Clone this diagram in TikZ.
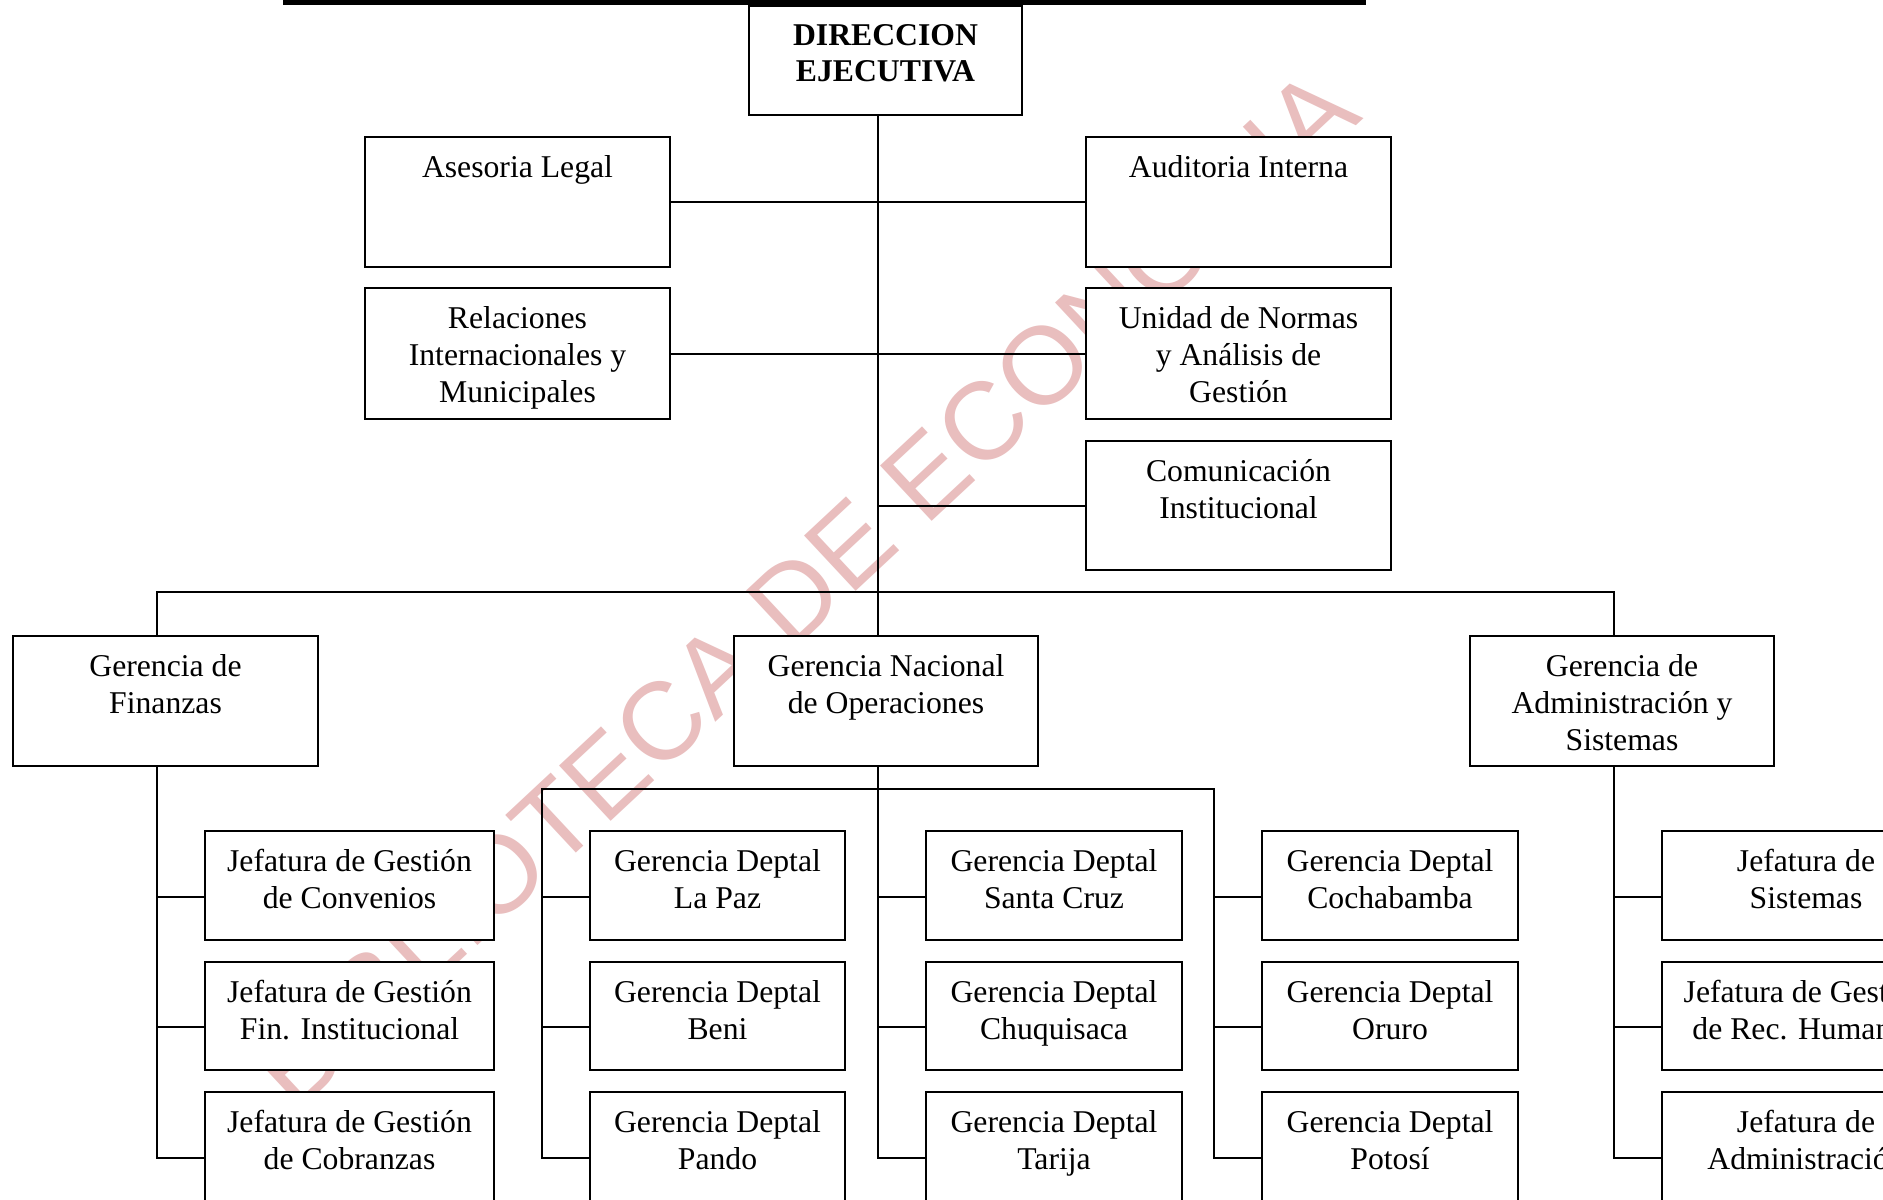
\documentclass[tikz,border=0pt]{standalone}
\usepackage{fontspec}
\setmainfont{Liberation Serif}
\newfontfamily\wmfont{Liberation Sans}
\usetikzlibrary{fit}
\pgfdeclarelayer{wm}
\pgfdeclarelayer{bg}
\pgfsetlayers{wm,bg,main}
\definecolor{wmpink}{RGB}{233,190,190}
\tikzset{
  orgbox/.style={draw=black, line width=1.05pt, fill=white, inner sep=0pt, rectangle},
  orgtxt/.style={anchor=north, inner sep=0pt, align=center, font=\fontsize{15.85}{18.6}\selectfont},
  boldtxt/.style={orgtxt, font=\fontsize{15.85}{18}\selectfont\bfseries},
  link/.style={draw=black, line width=1pt},
}
\newcommand\obox[6]{%
  \node[orgbox, fit={(#2,#3) (#4,#5)}] (#1) {};
  \node[orgtxt] (#1-t) at ([yshift=-9.5pt]#1.north) {#6};
}
\begin{document}
\begin{tikzpicture}[x=0.5pt,y=-0.5pt]
\useasboundingbox (0,0) rectangle (1883,1199);

% watermark
\begin{pgfonlayer}{wm}
  \fill[white] (0,0) rectangle (1883,1199);
  \node[rotate=43, text=wmpink, inner sep=0pt, font=\wmfont\fontsize{55}{60}\selectfont] (wm) at (804,589) {BIBLIOTECA DE ECONOMIA};
\end{pgfonlayer}

% underline of the cut-off title
\fill[black] (283,0) rectangle (1366,4.5);

% boxes
\node[orgbox, fit={(749,6) (1022,115)}] (dir) {};
\node[boldtxt] (dir-t) at ([yshift=-9.5pt]dir.north) {DIRECCION\\EJECUTIVA};

\obox{ase}{365}{137}{670}{267}{Asesoria Legal}
\obox{aud}{1086}{137}{1391}{267}{Auditoria Interna}
\obox{rel}{365}{288}{670}{419}{Relaciones\\Internacionales y\\Municipales}
\obox{uni}{1086}{288}{1391}{419}{Unidad de Normas\\y Análisis de\\Gestión}
\obox{com}{1086}{441}{1391}{570}{Comunicación\\Institucional}

\obox{fin}{13}{636}{318}{766}{Gerencia de\\Finanzas}
\obox{ope}{734}{636}{1038}{766}{Gerencia Nacional\\de Operaciones}
\obox{adm}{1470}{636}{1774}{766}{Gerencia de\\Administración y\\Sistemas}

\obox{jconv}{205}{831}{494}{940}{Jefatura de Gestión\\de Convenios}
\obox{jfin}{205}{962}{494}{1070}{Jefatura de Gestión\\Fin. Institucional}
\obox{jcob}{205}{1092}{494}{1201}{Jefatura de Gestión\\de Cobranzas}

\obox{lpz}{590}{831}{845}{940}{Gerencia Deptal\\La Paz}
\obox{ben}{590}{962}{845}{1070}{Gerencia Deptal\\Beni}
\obox{pan}{590}{1092}{845}{1201}{Gerencia Deptal\\Pando}

\obox{scz}{926}{831}{1182}{940}{Gerencia Deptal\\Santa Cruz}
\obox{chu}{926}{962}{1182}{1070}{Gerencia Deptal\\Chuquisaca}
\obox{tar}{926}{1092}{1182}{1201}{Gerencia Deptal\\Tarija}

\obox{cbb}{1262}{831}{1518}{940}{Gerencia Deptal\\Cochabamba}
\obox{oru}{1262}{962}{1518}{1070}{Gerencia Deptal\\Oruro}
\obox{pot}{1262}{1092}{1518}{1201}{Gerencia Deptal\\Potosí}

\obox{jsis}{1662}{831}{1950}{940}{Jefatura de\\Sistemas}
\obox{jrh}{1662}{962}{1950}{1070}{Jefatura de Gestión\\de Rec. Humanos}
\obox{jadm}{1662}{1092}{1950}{1201}{Jefatura de\\Administración}

% reference coordinates
\coordinate (xt) at (878,0);
\coordinate (xf) at (157,0);
\coordinate (xa) at (1614,0);
\coordinate (xo1) at (542,0);
\coordinate (xo3) at (1214,0);
\coordinate (bus) at (0,592);
\coordinate (opsbar) at (0,789);
\coordinate (r1) at (0,897);
\coordinate (r2) at (0,1027);
\coordinate (r3) at (0,1158);

% connectors
\begin{pgfonlayer}{bg}
  \draw[link] (xt |- dir.south) -- (xt |- ope.north);
  \draw[link] (ase.east) -- (aud.west);
  \draw[link] (rel.east) -- (uni.west);
  \draw[link] (xt |- com.west) -- (com.west);
  \draw[link] (xf |- fin.north) -- (xf |- bus) -- (xa |- bus) -- (xa |- adm.north);
  % finanzas
  \draw[link] (xf |- fin.south) -- (xf |- r3) -- (r3 -| jcob.west);
  \draw[link] (xf |- r1) -- (r1 -| jconv.west);
  \draw[link] (xf |- r2) -- (r2 -| jfin.west);
  % operaciones
  \draw[link] (xt |- ope.south) -- (xt |- r3) -- (r3 -| tar.west);
  \draw[link] (xt |- r1) -- (r1 -| scz.west);
  \draw[link] (xt |- r2) -- (r2 -| chu.west);
  \draw[link] (r3 -| pan.west) -- (xo1 |- r3) -- (xo1 |- opsbar) -- (xo3 |- opsbar) -- (xo3 |- r3) -- (r3 -| pot.west);
  \draw[link] (xo1 |- r1) -- (r1 -| lpz.west);
  \draw[link] (xo1 |- r2) -- (r2 -| ben.west);
  \draw[link] (xo3 |- r1) -- (r1 -| cbb.west);
  \draw[link] (xo3 |- r2) -- (r2 -| oru.west);
  % administracion
  \draw[link] (xa |- adm.south) -- (xa |- r3) -- (r3 -| jadm.west);
  \draw[link] (xa |- r1) -- (r1 -| jsis.west);
  \draw[link] (xa |- r2) -- (r2 -| jrh.west);
\end{pgfonlayer}
\end{tikzpicture}
\end{document}
